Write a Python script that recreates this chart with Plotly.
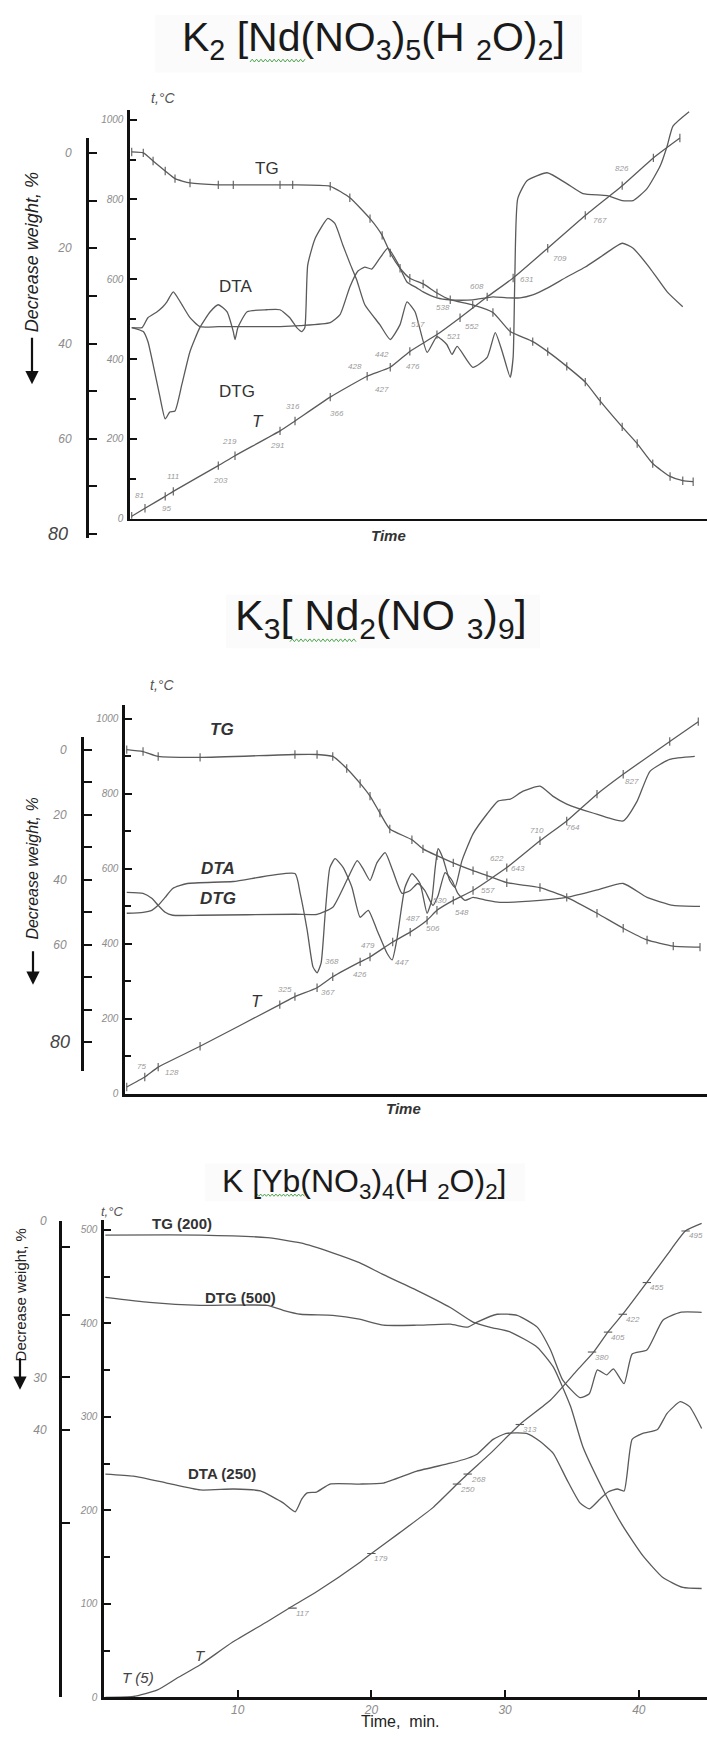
import plotly.graph_objects as go

W, H = 707, 1764


def px(x):
    return x / W


def py(y):
    return 1 - y / H


# ---------------- Panel 1 : K2[Nd(NO3)5(H2O)2] ----------------
p1_tg_time = [0.3, 2.3, 4.0, 6.1, 7.8, 10.4, 15.3, 17.9, 26.0, 28.2, 34.7, 38.1, 41.6, 43.7, 45.1, 46.8, 48.5,
              50.8, 53.2, 55.5, 59.4, 62.9, 65.9, 69.8, 72.4, 75.7, 78.9, 81.5, 85.3, 87.9, 90.6, 93.6, 95.8, 97.6]
p1_tg_weight = [-0.2, 0, 1.7, 3.8, 5.4, 6.3, 6.7, 6.7, 6.7, 6.7, 7.0, 9.4, 13.8, 17.3, 21.0, 24.2, 26.3,
                27.5, 29.4, 30.8, 31.9, 33.5, 37.5, 39.6, 41.7, 44.8, 48.1, 52.1, 57.5, 61.0, 65.2, 67.9, 68.8, 69.0]

p1_dta_time = [0.3, 2.1, 3.1, 4.7, 5.7, 6.4, 7.5, 8.7, 10.4, 12.1, 15.3, 17.9, 26.0, 29.5, 34.7, 36.4, 38.1, 39.5,
               40.7, 41.9, 43.3, 44.7, 46.3, 48.0, 49.7, 50.8, 53.2, 55.5, 59.4, 62.9, 65.3, 67.6, 69.8, 72.4,
               75.7, 78.9, 81.5, 85.3, 87.2, 90.1, 93.1, 95.8]
p1_dta_val = [478.9, 478.9, 503.7, 518.7, 531.1, 543.5, 568.4, 543.5, 503.7, 481.3, 481.3, 481.3, 481.3, 483.8,
              491.3, 511.2, 580.8, 620.6, 630.6, 625.6, 653.0, 677.9, 643.1, 593.3, 578.4, 568.4, 553.5, 548.5,
              548.5, 556.0, 553.5, 553.5, 561.0, 578.4, 605.7, 630.6, 655.5, 690.3, 677.9, 628.1, 568.4, 531.1]

p1_dtg_time = [0.3, 2.3, 3.1, 4.0, 5.2, 6.1, 6.9, 7.8, 9.0, 10.4, 12.1, 13.9, 15.3, 16.8, 17.9, 18.2, 18.7, 20.3,
               23.7, 26.0, 27.7, 28.9, 29.8, 30.3, 30.8, 32.1, 34.3, 35.5, 36.9, 38.1, 39.3, 40.7, 43.3, 45.1,
               46.8, 48.0, 49.4, 51.5, 53.2, 54.9, 55.8, 56.7, 59.4, 61.9, 63.3, 64.5, 65.9, 66.4, 66.7, 67.2,
               68.8, 72.3, 75.7, 78.5, 82.7, 85.3, 87.2, 89.6, 91.9, 93.1, 94.1, 96.9]
p1_dtg_val = [478.9, 468.9, 444.0, 386.8, 304.7, 250.0, 267.4, 269.9, 337.1, 419.2, 478.9, 518.7, 536.1, 518.7,
              468.9, 449.0, 478.9, 518.7, 523.6, 523.6, 503.7, 478.9, 468.9, 478.9, 635.6, 702.7, 752.5, 740.0,
              685.3, 640.5, 598.3, 536.1, 486.3, 449.0, 486.3, 543.5, 518.7, 416.7, 456.5, 436.6, 411.7, 431.6,
              379.4, 404.2, 466.4, 419.2, 354.5, 404.2, 610.7, 802.2, 847.0, 866.9, 839.6, 814.7, 809.7, 797.3,
              797.3, 827.1, 884.3, 934.1, 983.8, 1020.0]

p1_t_time = [0.3, 2.6, 6.1, 7.5, 15.3, 18.2, 26.0, 28.6, 34.7, 41.1, 45.1, 48.5, 53.2, 57.2, 61.9, 66.4, 72.4,
             78.9, 85.3, 90.7, 95.3]
p1_t_temp = [6.2, 26.1, 56.0, 68.4, 133.1, 157.9, 220.1, 245.0, 304.7, 357.0, 379.4, 419.2, 461.4, 503.7, 556.0,
             603.2, 677.9, 760.0, 834.6, 904.2, 954.0]

p1_lab_time = [1.7, 6.4, 7.5, 15.6, 17.3, 25.5, 28.2, 35.9, 39.0, 43.7, 43.7, 49.0, 49.9, 56.0, 54.2, 59.3, 60.1,
               68.8, 74.5, 81.5, 85.3]
p1_lab_temp = [58.5, 26.1, 105.7, 95.8, 192.8, 182.8, 282.3, 262.4, 381.8, 324.6, 411.7, 381.8, 486.3, 456.5,
               528.6, 481.3, 580.8, 598.2, 652.9, 747.5, 876.9]
p1_lab_text = ['81', '95', '111', '203', '219', '291', '316', '366', '428', '427', '442', '476', '517', '521',
               '538', '552', '608', '631', '709', '767', '826']

# ---------------- Panel 2 : K3[Nd2(NO3)9] ----------------
p2_tg_time = [0.3, 3.1, 5.7, 12.9, 29.2, 33.0, 35.7, 38.1, 40.4, 42.1, 43.8, 45.5, 49.3, 51.2, 53.6, 56.4, 59.8,
              62.2, 65.6, 71.3, 75.9, 81.1, 85.6, 89.7, 94.2, 98.8]
p2_tg_weight = [0, 0.6, 2.1, 2.4, 1.5, 1.5, 2.1, 5.8, 10.4, 14.3, 19.5, 24.4, 27.7, 30.5, 32.6, 34.8, 37.2,
                38.7, 40.9, 42.4, 45.4, 50.3, 54.9, 58.5, 60.4, 60.7]

p2_dtg_time = [0.3, 3.1, 4.6, 5.7, 6.9, 8.2, 12.9, 29.2, 33.0, 35.7, 38.1, 39.9, 40.9, 42.1, 43.3, 44.7, 46.0,
               47.6, 49.0, 50.3, 51.5, 52.9, 53.8, 55.0, 56.2, 57.2, 58.4, 59.8, 62.2, 64.4, 71.3, 75.9, 80.8,
               85.6, 89.7, 94.2, 98.8]
p2_dtg_val = [537.0, 534.4, 521.2, 502.6, 484.1, 476.2, 476.2, 478.8, 478.8, 497.4, 568.8, 621.7, 600.5, 568.8,
              616.4, 642.9, 595.2, 534.4, 542.3, 560.8, 542.3, 502.6, 529.1, 589.9, 568.8, 534.4, 515.9, 523.8,
              515.9, 510.6, 515.9, 523.8, 542.3, 560.8, 523.8, 502.6, 500.0]

p2_dta_time = [0.3, 3.1, 4.6, 5.7, 6.9, 8.2, 10.7, 18.6, 29.2, 30.1, 31.3, 32.3, 33.0, 33.7, 34.4, 35.2, 36.1,
               37.5, 39.0, 40.4, 41.8, 43.3, 45.0, 45.9, 46.7, 48.1, 49.3, 50.7, 51.9, 52.7, 53.3, 53.8, 54.6,
               55.8, 56.7, 57.9, 59.8, 62.2, 64.1, 66.2, 68.4, 71.3, 73.5, 75.9, 80.4, 85.6, 88.0, 90.2, 93.6, 97.9]
p2_dta_val = [481.5, 484.1, 489.4, 502.6, 523.8, 547.6, 560.8, 566.1, 587.3, 534.4, 436.5, 338.6, 322.8, 349.2,
              481.5, 603.2, 627.0, 603.2, 550.3, 470.9, 489.4, 436.5, 375.7, 357.1, 410.1, 550.3, 587.3, 560.8,
              481.5, 515.9, 603.2, 653.4, 629.6, 568.8, 550.3, 621.7, 693.1, 746.0, 780.4, 785.7, 806.9, 820.1,
              793.7, 772.5, 748.7, 727.5, 780.4, 859.8, 891.5, 899.5]

p2_t_time = [0.3, 3.4, 5.7, 12.9, 26.6, 29.2, 33.0, 35.7, 40.4, 42.1, 46.0, 49.0, 51.9, 53.6, 56.4, 59.8, 65.6,
             71.3, 75.9, 81.1, 85.6, 93.6, 98.5]
p2_t_temp = [18.5, 45.0, 71.4, 127.0, 238.1, 259.3, 283.1, 312.2, 351.9, 365.1, 404.8, 431.2, 462.9, 489.4, 515.9,
             542.3, 603.2, 674.6, 727.5, 798.9, 851.9, 939.2, 992.1]

p2_lab_time = [2.9, 8.1, 27.5, 34.9, 35.6, 40.4, 41.8, 47.6, 49.5, 52.9, 54.1, 57.9, 62.4, 63.9, 67.5, 70.8, 77.0,
               87.1]
p2_lab_temp = [74.1, 58.2, 277.8, 269.8, 351.9, 317.5, 396.8, 349.2, 468.3, 441.8, 515.9, 484.1, 542.3, 627.0,
               600.5, 701.1, 709.0, 833.3]
p2_lab_text = ['75', '128', '325', '367', '368', '426', '479', '447', '487', '506', '530', '548', '557', '622',
               '643', '710', '764', '827']

# ---------------- Panel 3 : K[Yb(NO3)4(H2O)2] ----------------
p3_tg_time = [0.1, 7.2, 12.2, 14.7, 17.1, 19.1, 20.9, 23.4, 25.9, 27.6, 28.9, 30.4, 32.4, 33.6, 34.9, 35.8, 37.3,
              38.8, 40.3, 41.8, 43.3, 44.7]
p3_tg_weight = [2.7, 2.7, 3.2, 4.2, 6.1, 8.0, 10.3, 13.3, 16.6, 19.4, 20.4, 21.3, 24.2, 28.0, 35.6, 43.2, 51.4,
                58.5, 64.2, 68.4, 70.3, 70.5]

p3_dtg_time = [0.1, 3.4, 7.2, 12.2, 13.4, 14.7, 17.1, 19.1, 20.9, 23.4, 25.9, 27.2, 27.9, 29.4, 30.9, 32.4, 33.4,
               34.3, 35.6, 36.3, 36.9, 37.6, 38.1, 38.9, 39.5, 40.6, 41.8, 43.1, 44.7]
p3_dtg_val = [427.8, 422.5, 419.3, 419.3, 414.0, 409.8, 408.7, 404.5, 398.1, 398.1, 399.2, 396.0, 401.3, 409.8,
              408.7, 396.0, 371.5, 339.7, 320.6, 324.8, 350.3, 345.0, 351.4, 335.5, 367.3, 371.5, 403.4, 411.9,
              411.9]

p3_dta_time = [0.1, 2.2, 4.7, 7.2, 9.7, 11.7, 13.4, 14.3, 14.8, 15.2, 15.9, 16.9, 19.1, 20.9, 23.4, 25.9, 27.2,
               27.9, 29.1, 30.1, 31.6, 32.6, 33.6, 34.6, 35.6, 36.3, 37.1, 37.7, 38.4, 38.9, 39.5, 40.3, 41.4,
               42.1, 43.1, 43.8, 44.7]
p3_dta_val = [238.9, 236.7, 229.3, 221.9, 222.9, 220.8, 208.1, 198.5, 212.3, 218.7, 219.7, 228.2, 228.2, 229.3,
              242.0, 250.5, 255.8, 260.1, 276.0, 282.4, 282.4, 273.9, 261.1, 233.5, 208.1, 201.7, 212.3, 219.7,
              222.9, 220.8, 276.0, 282.4, 286.6, 303.6, 316.3, 311.0, 287.7]

p3_t_time = [0.1, 2.2, 4.0, 5.5, 7.2, 9.6, 12.2, 13.9, 15.9, 19.1, 20.0, 22.1, 24.6, 26.4, 27.2, 28.9, 31.1, 33.4,
             35.4, 36.6, 37.7, 38.8, 40.6, 42.1, 43.5, 44.7]
p3_t_temp = [0, 1, 8, 21, 35, 59, 81, 96, 113, 144, 154, 176, 203, 228, 239, 261, 292, 318, 350, 369, 391, 410,
             444, 473, 499, 507]

p3_mark_time = [14.1, 20.0, 26.4, 27.2, 31.1, 36.5, 37.7, 38.8, 40.6, 43.5]
p3_mark_temp = [95.5, 153.9, 228.2, 238.9, 291.9, 369.4, 390.7, 409.8, 443.7, 498.9]
p3_mark_text = ['117', '179', '250', '268', '313', '380', '405', '422', '455', '495']

p3_time_ticks = [10, 20, 30, 40]

# ---------------- styling ----------------
CURVE = '#5a5a5a'
AXC = '#111111'
TICKC = '#8c8c8c'
NARROW = 'Liberation Sans Narrow, Arial Narrow, Liberation Sans, Arial, sans-serif'
SANS = 'Liberation Sans, Arial, sans-serif'

fig = go.Figure()


def add_curve(x, y, xa, ya, marks=False):
    fig.add_trace(go.Scatter(
        x=x, y=y, xaxis=xa, yaxis=ya,
        mode='lines+markers' if marks else 'lines',
        line=dict(color=CURVE, width=1.3, shape='spline', smoothing=0.5),
        marker=dict(symbol='line-ns', size=6, color=CURVE, line=dict(width=1.1, color=CURVE)),
        hoverinfo='skip', showlegend=False))


# panel 1
add_curve(p1_tg_time, p1_tg_weight, 'x', 'y2', marks=True)
add_curve(p1_dta_time, p1_dta_val, 'x', 'y')
add_curve(p1_dtg_time, p1_dtg_val, 'x', 'y')
add_curve(p1_t_time, p1_t_temp, 'x', 'y', marks=True)
# panel 2
add_curve(p2_tg_time, p2_tg_weight, 'x2', 'y4', marks=True)
add_curve(p2_dta_time, p2_dta_val, 'x2', 'y3')
add_curve(p2_dtg_time, p2_dtg_val, 'x2', 'y3')
add_curve(p2_t_time, p2_t_temp, 'x2', 'y3', marks=True)
# panel 3
add_curve(p3_tg_time, p3_tg_weight, 'x3', 'y6')
add_curve(p3_dtg_time, p3_dtg_val, 'x3', 'y5')
add_curve(p3_dta_time, p3_dta_val, 'x3', 'y5')
add_curve(p3_t_time, p3_t_temp, 'x3', 'y5')
fig.add_trace(go.Scatter(x=p3_mark_time, y=p3_mark_temp, xaxis='x3', yaxis='y5', mode='markers',
                         marker=dict(symbol='line-ew', size=6, line=dict(width=1.1, color=CURVE)),
                         hoverinfo='skip', showlegend=False))

tickfont = dict(family=NARROW, size=10, color=TICKC, style='italic')


def x_axis(left_px, rng, anchor, **kw):
    d = dict(domain=[px(left_px), 1], range=rng, anchor=anchor, showline=True, linecolor=AXC, linewidth=2.6,
             showgrid=False, zeroline=False, ticks='', showticklabels=False, fixedrange=True)
    d.update(kw)
    return d


def t_axis(bottom_px, top_px, rng, dtick, mdtick, anchor):
    return dict(domain=[py(bottom_px), py(top_px)], range=rng, anchor=anchor, showline=True, linecolor=AXC,
                linewidth=2.6, ticks='inside', ticklen=7, tickwidth=2, tickcolor=AXC, tick0=0, dtick=dtick,
                minor=dict(ticks='inside', ticklen=6, tickwidth=2, tickcolor=AXC, dtick=mdtick, showgrid=False),
                showgrid=False, zeroline=False, tickfont=tickfont, ticklabelstandoff=2, fixedrange=True)


def w_axis(bottom_px, top_px, rng, pos_px, tickvals, minorvals, standoff):
    return dict(domain=[py(bottom_px), py(top_px)], range=rng, anchor='free', position=px(pos_px),
                showline=True, linecolor=AXC, linewidth=2.6, ticks='inside', ticklen=8, tickwidth=2,
                tickcolor=AXC, tickmode='array', tickvals=tickvals,
                minor=dict(ticks='inside', ticklen=8, tickwidth=2, tickcolor=AXC, tickmode='array',
                           tickvals=minorvals, showgrid=False),
                showgrid=False, zeroline=False, tickfont=dict(family=NARROW, size=12, color=TICKC, style='italic'),
                ticklabelstandoff=standoff, fixedrange=True)


layout = dict(
    width=W, height=H, margin=dict(l=0, r=0, t=0, b=0),
    paper_bgcolor='white', plot_bgcolor='rgba(0,0,0,0)', showlegend=False,
    xaxis=x_axis(130, [0, 100], 'y'),
    yaxis=t_axis(515.5, 104, [0, 1023.6], 200, 100, 'x'),
    yaxis2=w_axis(535, 132, [80.83, -3.125], 87, [0, 20, 40, 60], [10, 30, 50, 70, 80], 12),
    xaxis2=x_axis(125, [0, 100], 'y3'),
    yaxis3=t_axis(1095, 703, [0, 1037.0], 200, 100, 'x2'),
    yaxis4=w_axis(1072, 735, [98.8, -4.0], 82, [0, 20, 40, 60], [10, 30, 50, 70, 80, 90], 12),
    xaxis3=x_axis(104, [0, 45.1], 'y5', ticks='inside', ticklen=7, tickwidth=2, tickcolor=AXC,
                  showticklabels=True, tickmode='array', tickvals=p3_time_ticks,
                  tickfont=dict(family=NARROW, size=12, color=TICKC, style='italic')),
    yaxis5=t_axis(1703, 1222, [0, 510.6], 100, 50, 'x3'),
    yaxis6=w_axis(1703, 1223, [91.4, 0], 60, [0, 30, 40], [5, 18, 58], 10),
)

annotations = []
shapes = []


def ann(text, x, y, size, color='#222222', family=SANS, style='normal', weight='normal', angle=0,
        xanchor='center', yanchor='middle', xref='paper', yref='paper', **kw):
    a = dict(text=text, x=x, y=y, xref=xref, yref=yref, showarrow=False, textangle=angle,
             xanchor=xanchor, yanchor=yanchor,
             font=dict(size=size, color=color, family=family, style=style, weight=weight))
    a.update(kw)
    annotations.append(a)


# very faint background boxes behind the pasted formula titles
for (x0, y0, x1, y1) in [(155, 8, 582, 66), (226, 592, 540, 646), (205, 1165, 525, 1203)]:
    shapes.append(dict(type='rect', xref='paper', yref='paper', x0=px(x0), x1=px(x1), y0=py(y1), y1=py(y0),
                       fillcolor='#fbfbfb', line=dict(width=0), layer='below'))


def squiggle(x0, x1, y, amp=1.4, step=2.2):
    pts = []
    x = x0
    k = 0
    while x <= x1:
        yy = y + (amp if k % 2 == 0 else -amp)
        pts.append('%s%.5f,%.5f' % ('M' if k == 0 else 'L', px(x), py(yy)))
        x += step
        k += 1
    shapes.append(dict(type='path', xref='paper', yref='paper', path=' '.join(pts),
                       line=dict(color='#3c9a3c', width=0.9)))


# titles
ann('K<sub>2</sub> [Nd(NO<sub>3</sub>)<sub>5</sub>(H <sub>2</sub>O)<sub>2</sub>]', px(373), py(33), 41,
    color='#1a1a1a', family=NARROW)
squiggle(250, 305, 54)
ann('K<sub>3</sub>[ Nd<sub>2</sub>(NO <sub>3</sub>)<sub>9</sub>]', px(381), py(616), 43,
    color='#1a1a1a', family=NARROW)
squiggle(290, 358, 638)
ann('K [Yb(NO<sub>3</sub>)<sub>4</sub>(H <sub>2</sub>O)<sub>2</sub>]', px(364), py(1185), 32,
    color='#1a1a1a', family=SANS)
squiggle(255, 305, 1197, amp=1.1, step=1.9)

# axis captions
for (xx, yy, sz) in [(163, 92, 14), (162, 683, 14), (112, 1213, 13)]:
    ann('t,°C', px(xx), py(yy), sz, color='#555555', family=NARROW, style='italic')

# Decrease weight labels with arrows
for (xx, yc, y0, y1, sz, st) in [(32, 247, 332, 380, 18, 'italic'), (33, 868, 950, 985, 16, 'italic'),
                                 (20, 1298, 1360, 1393, 15, 'normal')]:
    ann('Decrease weight, %', px(xx), py(yc), sz, color='#222222', family=SANS, style=st, angle=-90)
    annotations.append(dict(x=px(xx), y=py(y1), xref='paper', yref='paper', text='', showarrow=True,
                            ax=0, ay=-(y1 - y0), arrowhead=2, arrowsize=1.2, arrowwidth=2.2,
                            arrowcolor='#111111'))

# large "80" labels on weight axes
ann('80', px(58), py(531), 18, color='#444444', family=NARROW, style='italic')
ann('80', px(60), py(1043), 18, color='#444444', family=NARROW, style='italic')

# curve labels, panel 1
ann('TG', px(267), py(163), 17, color='#333333')
ann('DTA', px(236), py(282), 17, color='#333333')
ann('DTG', px(237), py(387), 17, color='#333333')
ann('T', px(258), py(418), 17, color='#333333', style='italic')
ann('Time', px(388), py(532), 15, color='#333333', style='italic', weight='bold')

# curve labels, panel 2
ann('TG', px(222), py(728), 17, color='#333333', style='italic', weight='bold')
ann('DTA', px(218), py(868), 17, color='#333333', style='italic', weight='bold')
ann('DTG', px(218), py(898), 17, color='#333333', style='italic', weight='bold')
ann('T', px(257), py(1002), 17, color='#333333', style='italic')
ann('Time', px(403), py(1110), 15, color='#333333', style='italic', weight='bold')

# curve labels, panel 3
ann('TG (200)', px(182), py(1226), 15, color='#333333', weight='bold')
ann('DTG (500)', px(240), py(1300), 15, color='#333333', weight='bold')
ann('DTA (250)', px(222), py(1477), 15, color='#333333', weight='bold')
ann('T', px(200), py(1661), 15, color='#444444', style='italic')
ann('T (5)', px(138), py(1683), 15, color='#444444', style='italic')
ann('Time,  min.', px(400), py(1727), 16, color='#222222')

# temperature readings along T curves
for t, v, s in zip(p1_lab_time, p1_lab_temp, p1_lab_text):
    ann(s, t, v, 8, color='#9a9a9a', family=NARROW, style='italic', xref='x', yref='y')
for t, v, s in zip(p2_lab_time, p2_lab_temp, p2_lab_text):
    ann(s, t, v, 8, color='#9a9a9a', family=NARROW, style='italic', xref='x2', yref='y3')
for t, v, s in zip(p3_mark_time, p3_mark_temp, p3_mark_text):
    ann(s, t, v, 8, color='#9a9a9a', family=NARROW, style='italic', xref='x3', yref='y5',
        xanchor='left', xshift=1, yshift=-5)

layout['annotations'] = annotations
layout['shapes'] = shapes
fig.update_layout(**layout)
fig.write_html('out.html', config={'displayModeBar': False, 'staticPlot': True},
               post_script="document.body.style.margin='0px';document.body.style.padding='0px';")
